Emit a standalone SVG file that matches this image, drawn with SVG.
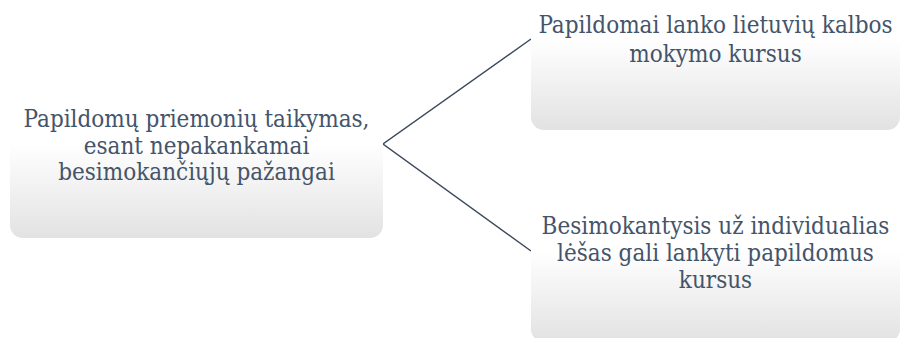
<svg xmlns="http://www.w3.org/2000/svg" width="901" height="338" viewBox="0 0 901 338">
<defs>
<linearGradient id="g" x1="0" y1="0" x2="0" y2="1">
<stop offset="0" stop-color="#ffffff"/>
<stop offset="0.5" stop-color="#ffffff"/>
<stop offset="1" stop-color="#e2e2e2"/>
</linearGradient>
<style>
.box{fill:url(#g);}
.t{fill:#44546a;text-anchor:middle;}
.c{fill:none;stroke:#3d4a5c;stroke-width:1.5;}
</style>
</defs>
<rect width="901" height="338" fill="#ffffff"/>
<g id="connectors">
<path class="c" d="M531 39 L383 144 L531 251"/>
</g>
<g font-family="'DejaVu Serif Condensed', 'DejaVu Serif', serif" font-size="24">
<g id="node-root">
<rect class="box" x="10" y="50" width="373" height="188" rx="13"/>
<text class="t" x="196.5" y="126.7">Papildomų priemonių taikymas,</text>
<text class="t" x="196.5" y="153.5">esant nepakankamai</text>
<text class="t" x="196.5" y="180.3">besimokančiųjų pažangai</text>
</g>
<g id="node-top">
<rect class="box" x="531" y="-52" width="369" height="182" rx="13"/>
<text class="t" x="715.5" y="33.3">Papildomai lanko lietuvių kalbos</text>
<text class="t" x="715.5" y="61.5">mokymo kursus</text>
</g>
<g id="node-bottom">
<rect class="box" x="531" y="160" width="369" height="182" rx="13"/>
<text class="t" x="715.5" y="234">Besimokantysis už individualias</text>
<text class="t" x="715.5" y="261">lėšas gali lankyti papildomus</text>
<text class="t" x="715.5" y="288">kursus</text>
</g>
</g>
</svg>
